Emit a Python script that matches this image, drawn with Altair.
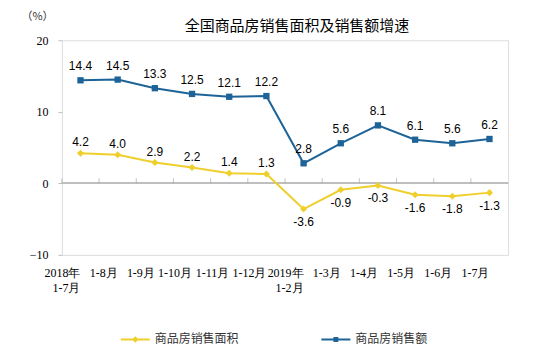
import altair as alt
import pandas as pd

categories = ["2018年 1-7月", "1-8月", "1-9月", "1-10月", "1-11月", "1-12月",
              "2019年 1-2月", "1-3月", "1-4月", "1-5月", "1-6月", "1-7月"]
area_growth = [4.2, 4.0, 2.9, 2.2, 1.4, 1.3, -3.6, -0.9, -0.3, -1.6, -1.8, -1.3]
sales_growth = [14.4, 14.5, 13.3, 12.5, 12.1, 12.2, 2.8, 5.6, 8.1, 6.1, 5.6, 6.2]
series_names = ["商品房销售面积", "商品房销售额"]
series_colors = ["#EFCF2B", "#1D6397"]
y_ticks = [-10, 0, 10, 20]

rows = []
for name, vals in zip(series_names, [area_growth, sales_growth]):
    for c, v in zip(categories, vals):
        rows.append({"cat": c, "series": name, "value": v, "label": f"{v:.1f}"})
df = pd.DataFrame(rows)

GRAY = "#BFBFBF"
x_enc = alt.X("cat:N", sort=categories, title=None,
              scale=alt.Scale(type="band", domain=categories, paddingInner=0, paddingOuter=0),
              axis=alt.Axis(labelExpr="split(datum.label, ' ')", labelAngle=0, ticks=False,
                            domain=False, labelPadding=13, labelBaseline="top",
                            labelFont="Liberation Serif", labelFontSize=12, labelColor="#000",
                            labelLineHeight=15))
y_enc = alt.Y("value:Q", title="（%）",
              scale=alt.Scale(domain=[-10, 20], nice=False, zero=False),
              axis=alt.Axis(values=y_ticks, grid=False, domain=False, tickColor=GRAY, tickSize=4,
                            labelPadding=10, labelFont="Liberation Serif", labelFontSize=12,
                            labelColor="#000", titleAngle=0, titleX=-25, titleY=-24,
                            titleAlign="center", titleBaseline="middle", titleFontWeight="normal",
                            titleFont="Noto Sans CJK SC", titleFontSize=11, titleColor="#333"))

legend_shapes = ["M-1,0H1M0,-0.13L0.13,0L0,0.13L-0.13,0Z",
                 "M-1,0H1M-0.1,-0.1H0.1V0.1H-0.1Z"]
legend_def = alt.Legend(orient="bottom", direction="horizontal", offset=30,
                        title=" ", titleOrient="left", titlePadding=58, titleFontSize=11,
                        symbolSize=841, symbolStrokeWidth=2,
                        labelFont="Noto Sans CJK SC", labelFontSize=12, labelColor="#333",
                        labelOffset=4, columnPadding=78)
color_scale = alt.Scale(domain=series_names, range=series_colors)

base = alt.Chart(df)

zero_rule = base.mark_rule(color=GRAY, strokeWidth=1).encode(y=alt.datum(0))

zero_ticks = base.transform_filter(alt.datum.series == series_names[0]).mark_tick(
    orient="vertical", size=5, thickness=1, color="#A8A8A8", yOffset=-2.5
).encode(x=alt.X("cat:N", sort=categories, bandPosition=0), y=alt.datum(0))

lines = base.mark_line(strokeWidth=2).encode(
    x=x_enc, y=y_enc,
    color=alt.Color("series:N", scale=color_scale, legend=legend_def))

pts_area = base.transform_filter(alt.datum.series == series_names[0]).mark_point(
    shape="diamond", filled=True, size=50, opacity=1
).encode(x="cat:N", y="value:Q", color=alt.Color("series:N"))

pts_sales = base.transform_filter(alt.datum.series == series_names[1]).mark_point(
    shape="square", filled=True, size=40, opacity=1
).encode(x="cat:N", y="value:Q", color=alt.Color("series:N"))

lbl_sales = base.transform_filter(alt.datum.series == series_names[1]).mark_text(
    baseline="middle", dy=-14, font="Liberation Sans", fontSize=12, color="#000"
).encode(x="cat:N", y="value:Q", text="label:N")

lbl_area_pos = base.transform_filter(
    (alt.datum.series == series_names[0]) & (alt.datum.value >= 0)
).mark_text(baseline="middle", dy=-11, font="Liberation Sans", fontSize=12, color="#000"
).encode(x="cat:N", y="value:Q", text="label:N")

lbl_area_neg = base.transform_filter(
    (alt.datum.series == series_names[0]) & (alt.datum.value < 0)
).mark_text(baseline="middle", dy=13, font="Liberation Sans", fontSize=12, color="#000"
).encode(x="cat:N", y="value:Q", text="label:N")

legend_layer = base.mark_point(filled=True, opacity=0).encode(
    x="cat:N", y="value:Q",
    shape=alt.Shape("series:N", scale=alt.Scale(domain=series_names, range=legend_shapes), legend=legend_def),
)

chart = alt.layer(
    zero_rule, zero_ticks, lines, pts_area, pts_sales, lbl_sales, lbl_area_pos, lbl_area_neg, legend_layer
).properties(
    width=447, height=215,
    title=alt.TitleParams("全国商品房销售面积及销售额增速", font="Noto Sans CJK SC", fontSize=15,
                          fontWeight="normal", color="#000", anchor="middle", dx=12, dy=30, offset=6),
    autosize=alt.AutoSizeParams(type="none"),
    padding={"left": 54, "top": 32, "right": 40, "bottom": 100},
).configure_view(stroke=GRAY, strokeWidth=1).configure(background="white")

chart.save("out.html", embed_options={"renderer": "svg", "actions": False})
